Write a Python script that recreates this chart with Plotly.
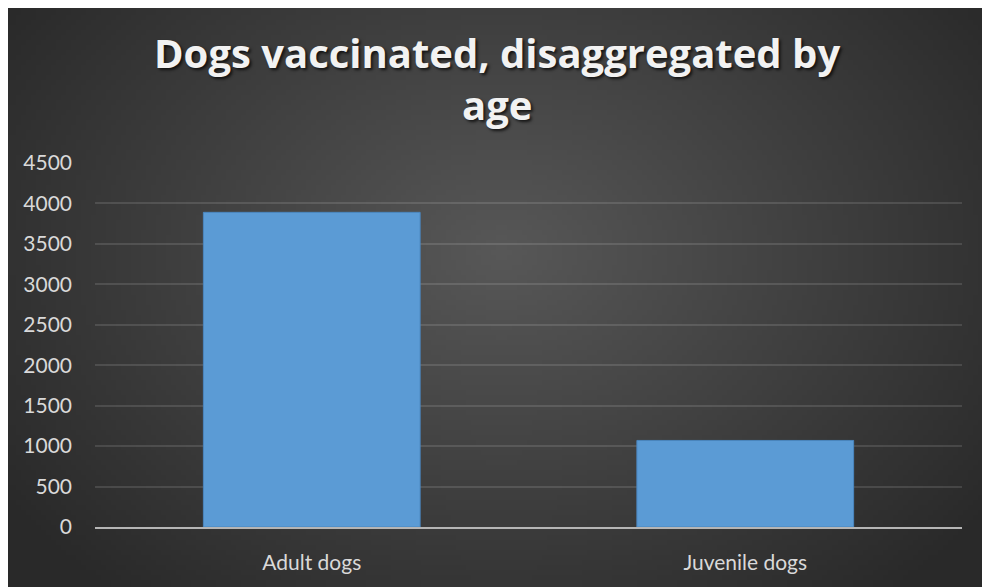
import base64
import struct
import zlib

import plotly.graph_objects as go

# chart data
categories = ["Adult dogs", "Juvenile dogs"]
vaccinated = [3890, 1070]
y_ticks = [0, 500, 1000, 1500, 2000, 2500, 3000, 3500, 4000, 4500]
title_lines = ["Dogs vaccinated, disaggregated by", "age"]

# page puts the figure 8px in from the top-left corner
OFF = 8
W, H = 990 - OFF, 587 - OFF


# small radial-gradient png for the dark slide background
def make_bg(w=196, h=116):
    rows = b""
    cx, cy = w * 0.5, h * 0.42
    for j in range(h):
        row = b"\x00"
        for i in range(w):
            dx = (i - cx) / (w * 0.62)
            dy = (j - cy) / (h * 0.78)
            d = min((dx * dx + dy * dy) ** 0.5, 1.0)
            v = int(0x58 - (0x58 - 0x29) * d)
            row += bytes((v, v, v))
        rows += row

    def chunk(tag, data):
        c = struct.pack(">I", len(data)) + tag + data
        return c + struct.pack(">I", zlib.crc32(tag + data) & 0xffffffff)

    png = b"\x89PNG\r\n\x1a\n"
    png += chunk(b"IHDR", struct.pack(">IIBBBBB", w, h, 8, 2, 0, 0, 0))
    png += chunk(b"IDAT", zlib.compress(rows, 9))
    png += chunk(b"IEND", b"")
    return "data:image/png;base64," + base64.b64encode(png).decode()


fig = go.Figure()
fig.add_trace(go.Bar(
    x=categories,
    y=vaccinated,
    width=0.5,
    marker=dict(color="#5b9bd5", line=dict(color="#4a86bf", width=1)),
))

# plot area in figure pixels
L, R, T, B = 87, 28, 155, 60
pw, ph = W - L - R, H - T - B


def px(x):
    return (x - L) / pw


def py(y):
    return (H - B - y) / ph


title_font = dict(family="Open Sans", size=40, weight="bold", color="#f2f2f2",
                  shadow="2px 2px 3px rgba(0,0,0,0.7)")
annotations = [
    dict(text=title_lines[0], x=px(489), y=py(45), xref="paper", yref="paper",
         xanchor="center", yanchor="middle", showarrow=False, font=title_font),
    dict(text=title_lines[1], x=px(489), y=py(97), xref="paper", yref="paper",
         xanchor="center", yanchor="middle", showarrow=False, font=title_font),
]

fig.update_layout(
    width=W, height=H,
    margin=dict(l=L, r=R, t=T, b=B),
    paper_bgcolor="#333333",
    plot_bgcolor="rgba(0,0,0,0)",
    images=[dict(source=make_bg(), xref="paper", yref="paper", x=px(0), y=py(0),
                 sizex=px(W) - px(0), sizey=py(0) - py(H), sizing="stretch",
                 xanchor="left", yanchor="top", layer="below")],
    annotations=annotations,
    font=dict(family="Lato", size=21, color="#d9d9d9"),
    showlegend=False,
)

fig.update_xaxes(
    showgrid=False, showline=True, linecolor="#b5b5b5", linewidth=2,
    ticks="", ticklabelstandoff=16, range=[-0.5, 1.5],
)
fig.update_yaxes(
    range=[0, 4500], tickvals=y_ticks, showgrid=True,
    gridcolor="rgba(255,255,255,0.12)", gridwidth=1.5,
    zeroline=False, showline=False, ticks="", ticklabelstandoff=22,
)

fig.write_html("out.html")
